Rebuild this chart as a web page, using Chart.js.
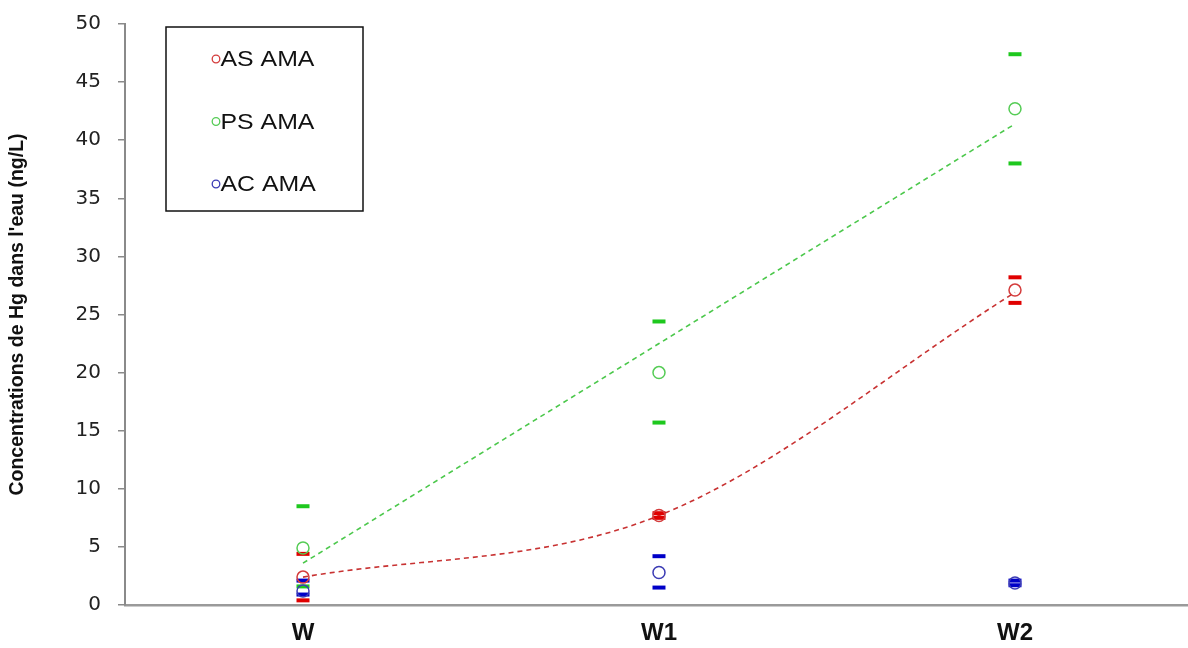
<!DOCTYPE html>
<html>
<head>
<meta charset="utf-8">
<title>Concentrations de Hg dans l'eau</title>
<script src="https://cdn.jsdelivr.net/npm/chart.js"></script>
<style>
  html, body { margin: 0; padding: 0; background: #fff; overflow: hidden; }
  #wrap { width: 1188px; height: 648px; }
  canvas { display: block; }
</style>
</head>
<body>
<div id="wrap"><canvas id="chart" width="1188" height="648"></canvas></div>
<script>
// ---- data ----
const categories = ['W', 'W1', 'W2'];

const asMean  = [2.4, 7.7, 27.1];
const asUpper = [4.4, 7.9, 28.2];
const asLower = [0.4, 7.5, 26.0];

const psMean  = [4.9, 20.0, 42.7];
const psUpper = [8.5, 24.4, 47.4];
const psLower = [1.6, 15.7, 38.0];

const acMean  = [1.2, 2.8, 1.9];
const acUpper = [2.1, 4.2, 2.1];
const acLower = [0.9, 1.5, 1.7];

// trend lines as they appear in the figure
const asTrend = [2.4, 7.7, 26.9];
const psTrend = [3.6, 22.5, 41.4];

const yTicks = [0, 5, 10, 15, 20, 25, 30, 35, 40, 45, 50];

// ---- helpers ----
const pts = arr => arr.map((v, i) => ({ x: i, y: v }));
const bars = (up, lo) => pts(up).concat(pts(lo));

const RED = '#d43c3c', RED_T = '#e00000';
const GREEN = '#55cc55', GREEN_T = '#1ec81e';
const BLUE = '#3b3bb4', BLUE_T = '#0000c8';

function meanSet(label, data, color) {
  return {
    type: 'scatter', label, data: pts(data),
    pointStyle: 'circle', pointRadius: 6, pointHoverRadius: 6,
    borderColor: color, backgroundColor: 'rgba(0,0,0,0)', borderWidth: 1.5,
    order: 1
  };
}
function tickSet(up, lo, color) {
  return {
    type: 'scatter', label: '', data: bars(up, lo),
    pointStyle: 'line', pointRadius: 6.5, pointHoverRadius: 6.5,
    borderColor: color, backgroundColor: color, borderWidth: 4,
    order: 2
  };
}
function trendSet(data, color, curved) {
  return {
    type: 'line', label: '', data: pts(data),
    borderColor: color, borderWidth: 1.6, borderDash: [5, 4],
    pointRadius: 0, fill: false,
    cubicInterpolationMode: curved ? 'monotone' : 'default', tension: 0,
    order: 3
  };
}

// legend box drawn inside the plot
const boxLegend = {
  id: 'boxLegend',
  afterDraw(chart) {
    const ctx = chart.ctx;
    const a = chart.chartArea;
    const x0 = a.left + 41, y0 = a.top + 3, w = 197, h = 184;
    ctx.save();
    ctx.fillStyle = '#fff';
    ctx.fillRect(x0, y0, w, h);
    ctx.strokeStyle = '#111';
    ctx.lineWidth = 1.5;
    ctx.strokeRect(x0, y0, w, h);
    const entries = [
      { text: 'AS AMA', color: RED },
      { text: 'PS AMA', color: GREEN },
      { text: 'AC AMA', color: BLUE }
    ];
    entries.forEach((e, i) => {
      const cy = y0 + 32 + i * 62.5;
      ctx.beginPath();
      ctx.arc(x0 + 50, cy, 3.8, 0, Math.PI * 2);
      ctx.strokeStyle = e.color;
      ctx.lineWidth = 1.3;
      ctx.stroke();
      ctx.save();
      ctx.translate(x0 + 54.5, cy);
      ctx.scale(1.13, 1);
      ctx.fillStyle = '#111';
      ctx.font = '22px "Liberation Sans", Arial, sans-serif';
      ctx.textBaseline = 'middle';
      ctx.fillText(e.text, 0, 1);
      ctx.restore();
    });
    ctx.restore();
  }
};

new Chart(document.getElementById('chart'), {
  data: {
    datasets: [
      trendSet(psTrend, '#4cc84c', false),
      trendSet(asTrend, '#c83232', true),
      tickSet(acUpper, acLower, BLUE_T),
      tickSet(psUpper, psLower, GREEN_T),
      tickSet(asUpper, asLower, RED_T),
      meanSet('AC AMA', acMean, BLUE),
      meanSet('PS AMA', psMean, GREEN),
      meanSet('AS AMA', asMean, RED)
    ]
  },
  options: {
    responsive: false,
    animation: false,
    layout: { autoPadding: false, padding: { top: 24, right: 0, bottom: 0, left: 0 } },
    plugins: {
      legend: { display: false },
      tooltip: { enabled: false },
      title: { display: false }
    },
    scales: {
      x: {
        type: 'linear',
        min: -0.5,
        max: 2.486,
        afterBuildTicks: s => { s.ticks = categories.map((c, i) => ({ value: i })); },
        afterFit: s => { s.height = 43; s.paddingLeft = 0; s.paddingRight = 0; },
        grid: { display: false, drawTicks: false },
        border: { display: true, color: '#9a9a9a', width: 2.5 },
        ticks: {
          autoSkip: false,
          maxRotation: 0,
          padding: 14,
          color: '#111',
          font: { family: '"Liberation Sans", Arial, sans-serif', size: 24, weight: 'bold' },
          callback: v => categories[v]
        }
      },
      y: {
        type: 'linear',
        min: 0,
        max: 50,
        afterBuildTicks: s => { s.ticks = yTicks.map(v => ({ value: v })); },
        afterFit: s => { s.width = 125; s.paddingTop = 0; s.paddingBottom = 0; },
        grid: { drawOnChartArea: false, drawTicks: true, tickLength: 7, color: '#8a8a8a', lineWidth: 1.5 },
        border: { display: true, color: '#8a8a8a', width: 2 },
        ticks: {
          padding: 17,
          color: '#222',
          font: { family: '"DejaVu Sans", Arial, sans-serif', size: 20 }
        },
        title: {
          display: true,
          text: "Concentrations de Hg dans l'eau (ng/L)",
          color: '#111',
          font: { family: '"Liberation Sans", Arial, sans-serif', size: 19.5, weight: 'bold' },
          padding: { top: 6, bottom: 0 }
        }
      }
    }
  },
  plugins: [boxLegend]
});
</script>
</body>
</html>
